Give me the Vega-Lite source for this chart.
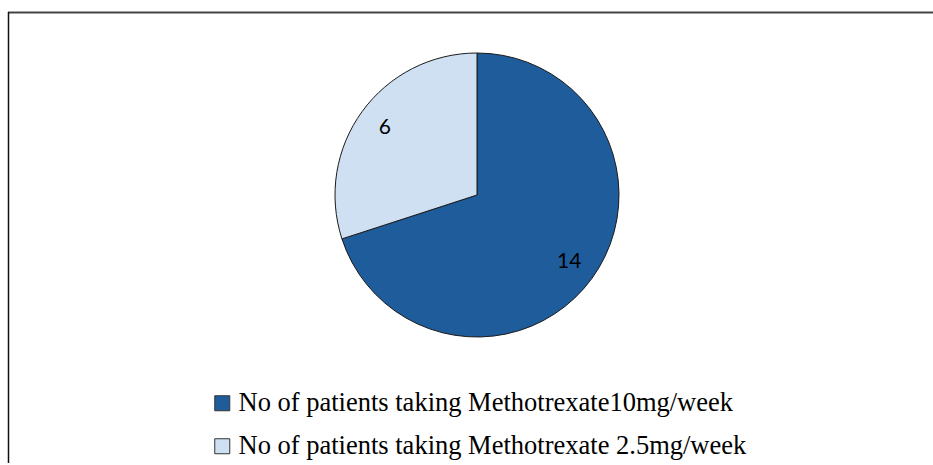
{
  "$schema": "https://vega.github.io/schema/vega-lite/v6.json",
  "autosize": {"type": "none"},
  "padding": {"left": 8, "top": 12, "right": 0, "bottom": 0},
  "width": 925,
  "height": 453,
  "background": "white",
  "config": {"view": {"stroke": null}},
  "data": {
    "values": [
      {"group": "No of patients taking Methotrexate10mg/week", "count": 14, "ord": 1},
      {"group": "No of patients taking Methotrexate 2.5mg/week", "count": 6, "ord": 2}
    ]
  },
  "layer": [
    {
      "data": {"values": [{"edge": "top"}]},
      "mark": {"type": "rule", "color": "#444444", "strokeWidth": 2},
      "encoding": {"x": {"value": 0}, "x2": {"value": "width"}, "y": {"value": 0.5}}
    },
    {
      "data": {"values": [{"edge": "left"}]},
      "mark": {"type": "rule", "color": "#111111", "strokeWidth": 1.5},
      "encoding": {"x": {"value": 0.5}, "y": {"value": 0}, "y2": {"value": 451}}
    },
    {
      "mark": {"type": "arc", "x": 469, "y": 183, "outerRadius": 142, "stroke": "#1a1a1a", "strokeWidth": 1},
      "encoding": {
        "theta": {"field": "count", "type": "quantitative", "stack": true},
        "order": {"field": "ord", "type": "quantitative"},
        "color": {
          "field": "group",
          "type": "nominal",
          "scale": {
            "domain": ["No of patients taking Methotrexate10mg/week", "No of patients taking Methotrexate 2.5mg/week"],
            "range": ["#1F5C9C", "#CFE0F2"]
          },
          "legend": {
            "title": null,
            "orient": "none",
            "legendX": 201,
            "legendY": 378,
            "direction": "vertical",
            "padding": 0,
            "symbolType": "square",
            "symbolSize": 225,
            "symbolStrokeColor": "#333333",
            "symbolStrokeWidth": 1,
            "labelFont": "Liberation Serif",
            "labelFontSize": 26.5,
            "labelColor": "#000000",
            "labelOffset": 3,
            "labelLimit": 800,
            "rowPadding": 16
          }
        }
      }
    },
    {
      "mark": {"type": "text", "x": 469, "y": 183, "radius": 114, "font": "Lato", "fontSize": 21, "color": "#000000"},
      "encoding": {
        "theta": {"field": "count", "type": "quantitative", "stack": true},
        "order": {"field": "ord", "type": "quantitative"},
        "detail": {"field": "group", "type": "nominal"},
        "text": {"field": "count", "type": "quantitative"}
      }
    }
  ]
}
